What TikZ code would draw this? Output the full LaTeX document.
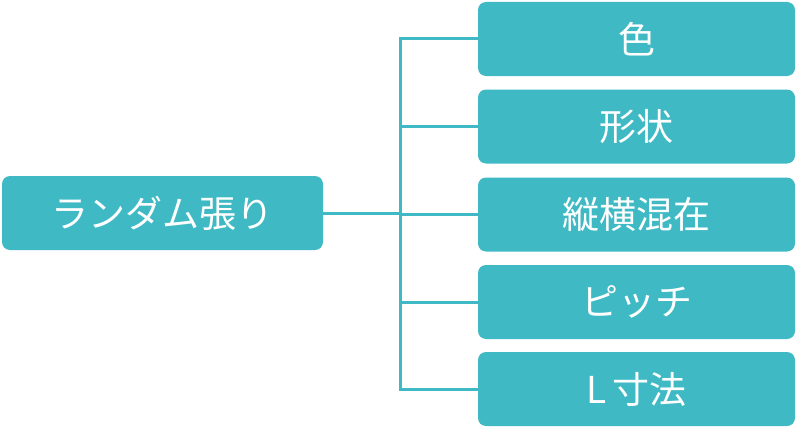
\documentclass[tikz,border=0pt]{standalone}
\usepackage{fontspec}
\setmainfont{Noto Sans CJK JP}
\definecolor{tl}{HTML}{3FBAC5}
\begin{document}
\begin{tikzpicture}[x=1pt,y=-1pt,
  box/.style={fill=tl,rounded corners=8pt,text=white,font=\fontsize{37}{40}\selectfont,inner sep=0pt},
  ln/.style={draw=tl,line width=3pt}]
\useasboundingbox (0,0) rectangle (800,428);
\node[box,minimum width=321pt,minimum height=74pt] (L) at (162.5,213) {ランダム張り};
\foreach \n/\y/\t in {a/39/色,b/126.5/形状,c/214.5/縦横混在,d/302/ピッチ,e/389/L\,寸法}{
  \node[box,minimum width=317pt,minimum height=74pt] (\n) at (636.5,\y) {\t};
}
\coordinate (j) at (400,213);
\draw[ln] (L.east) -- (j);
\draw[ln] (a.west) -| (j) |- (e.west);
\foreach \n in {b,c,d}{\draw[ln] (\n.west) -- (\n.west -| j);}
\end{tikzpicture}
\end{document}
